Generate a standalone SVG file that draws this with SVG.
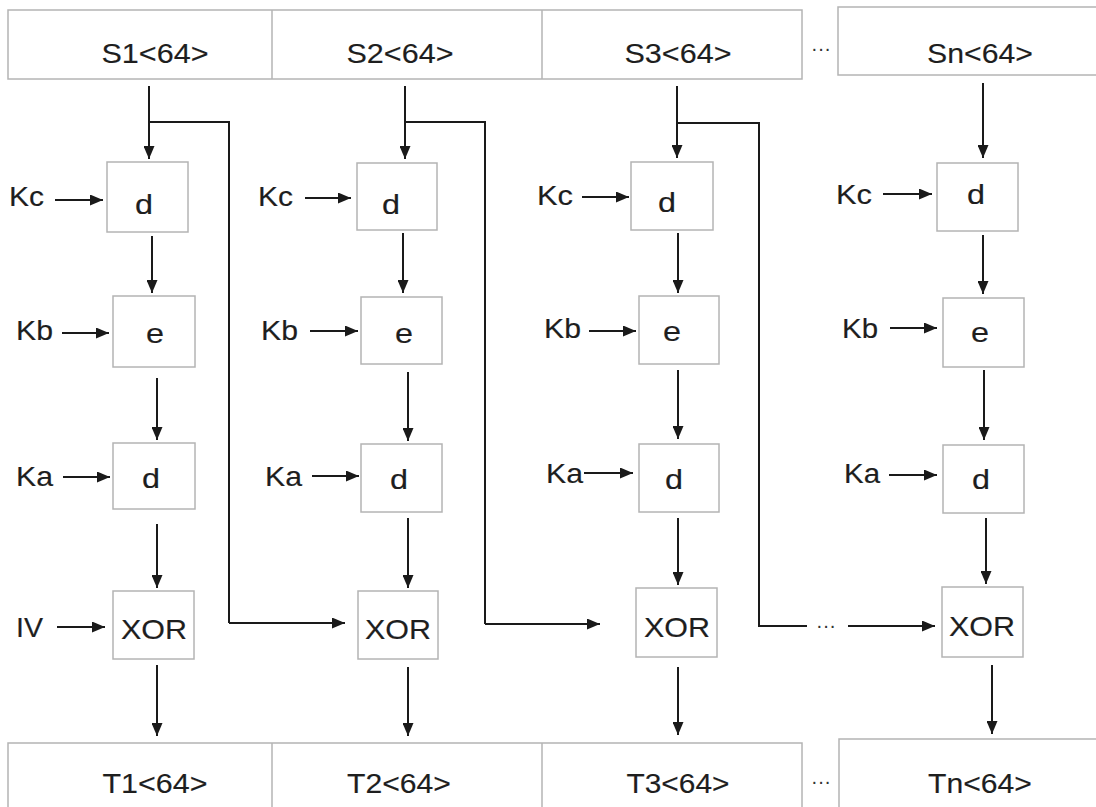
<svg xmlns="http://www.w3.org/2000/svg" width="1096" height="807" viewBox="0 0 1096 807">
<defs>
<marker id="ah" markerUnits="userSpaceOnUse" markerWidth="13" markerHeight="11" refX="13" refY="5.5" orient="auto">
<path d="M0,0 L13,5.5 L0,11 z" fill="#1a1a1a"/>
</marker>
</defs>
<style>
.box{fill:#fff;stroke:#b4b4b4;stroke-width:1.5}
.lbl{font-family:"Liberation Sans",Arial,sans-serif;font-size:28px;fill:#1e1e1e;stroke:#1e1e1e;stroke-width:0.15}
.mid{text-anchor:middle}
.ln{fill:none;stroke:#1a1a1a;stroke-width:2}
.ar{fill:none;stroke:#1a1a1a;stroke-width:2;marker-end:url(#ah)}
.dots{font-family:"Liberation Sans",Arial,sans-serif;font-size:20px;fill:#333;text-anchor:middle}
</style>
<rect width="1096" height="807" fill="#fff"/>

<g id="top-row">
<rect class="box" x="8" y="10" width="794" height="69"/>
<line class="box" x1="272" y1="10" x2="272" y2="79"/>
<line class="box" x1="542" y1="10" x2="542" y2="79"/>
<text class="lbl mid" x="155" y="63" textLength="107" lengthAdjust="spacingAndGlyphs">S1&lt;64&gt;</text>
<text class="lbl mid" x="400" y="63" textLength="107" lengthAdjust="spacingAndGlyphs">S2&lt;64&gt;</text>
<text class="lbl mid" x="678" y="63" textLength="107" lengthAdjust="spacingAndGlyphs">S3&lt;64&gt;</text>
<text class="dots" x="821" y="55">···</text>
</g>
<g id="Sn">
<rect class="box" x="838" y="7" width="270" height="68"/>
<text class="lbl mid" x="980" y="63" textLength="106" lengthAdjust="spacingAndGlyphs">Sn&lt;64&gt;</text>
</g>

<g id="bottom-row">
<rect class="box" x="8" y="743" width="794" height="80"/>
<line class="box" x1="272" y1="743" x2="272" y2="807"/>
<line class="box" x1="542" y1="743" x2="542" y2="807"/>
<text class="lbl mid" x="155" y="793" textLength="105" lengthAdjust="spacingAndGlyphs">T1&lt;64&gt;</text>
<text class="lbl mid" x="399" y="793" textLength="104" lengthAdjust="spacingAndGlyphs">T2&lt;64&gt;</text>
<text class="lbl mid" x="678" y="793" textLength="103" lengthAdjust="spacingAndGlyphs">T3&lt;64&gt;</text>
<text class="dots" x="821" y="788">···</text>
</g>
<g id="Tn">
<rect class="box" x="839" y="739" width="270" height="80"/>
<text class="lbl mid" x="980" y="793" textLength="104" lengthAdjust="spacingAndGlyphs">Tn&lt;64&gt;</text>
</g>

<!-- Column 1 -->
<g id="c1-d1"><rect class="box" x="107" y="162" width="81" height="70"/><text class="lbl mid" x="144" y="214" textLength="18" lengthAdjust="spacingAndGlyphs">d</text></g>
<g id="c1-e"><rect class="box" x="113" y="296" width="82" height="71"/><text class="lbl mid" x="155" y="343" textLength="18" lengthAdjust="spacingAndGlyphs">e</text></g>
<g id="c1-d2"><rect class="box" x="113" y="443" width="82" height="66"/><text class="lbl mid" x="151" y="488" textLength="18" lengthAdjust="spacingAndGlyphs">d</text></g>
<g id="c1-xor"><rect class="box" x="113" y="591" width="81" height="68"/><text class="lbl mid" x="154" y="639" textLength="66" lengthAdjust="spacingAndGlyphs">XOR</text></g>
<g id="c1-keys">
<text class="lbl" x="9" y="206" textLength="35" lengthAdjust="spacingAndGlyphs">Kc</text>
<text class="lbl" x="16" y="340" textLength="37" lengthAdjust="spacingAndGlyphs">Kb</text>
<text class="lbl" x="16" y="486" textLength="37" lengthAdjust="spacingAndGlyphs">Ka</text>
<text class="lbl" x="16" y="637" textLength="27" lengthAdjust="spacingAndGlyphs">IV</text>
</g>

<!-- Column 2 -->
<g id="c2-d1"><rect class="box" x="357" y="163" width="80" height="67"/><text class="lbl mid" x="391" y="214" textLength="18" lengthAdjust="spacingAndGlyphs">d</text></g>
<g id="c2-e"><rect class="box" x="361" y="297" width="81" height="67"/><text class="lbl mid" x="404" y="343" textLength="18" lengthAdjust="spacingAndGlyphs">e</text></g>
<g id="c2-d2"><rect class="box" x="361" y="444" width="81" height="68"/><text class="lbl mid" x="399" y="489" textLength="18" lengthAdjust="spacingAndGlyphs">d</text></g>
<g id="c2-xor"><rect class="box" x="358" y="591" width="80" height="68"/><text class="lbl mid" x="398" y="639" textLength="66" lengthAdjust="spacingAndGlyphs">XOR</text></g>
<g id="c2-keys">
<text class="lbl" x="258" y="206" textLength="35" lengthAdjust="spacingAndGlyphs">Kc</text>
<text class="lbl" x="261" y="340" textLength="37" lengthAdjust="spacingAndGlyphs">Kb</text>
<text class="lbl" x="265" y="486" textLength="37" lengthAdjust="spacingAndGlyphs">Ka</text>
</g>

<!-- Column 3 -->
<g id="c3-d1"><rect class="box" x="631" y="162" width="82" height="68"/><text class="lbl mid" x="667" y="212" textLength="18" lengthAdjust="spacingAndGlyphs">d</text></g>
<g id="c3-e"><rect class="box" x="639" y="296" width="80" height="68"/><text class="lbl mid" x="672" y="341" textLength="18" lengthAdjust="spacingAndGlyphs">e</text></g>
<g id="c3-d2"><rect class="box" x="639" y="444" width="80" height="68"/><text class="lbl mid" x="674" y="489" textLength="18" lengthAdjust="spacingAndGlyphs">d</text></g>
<g id="c3-xor"><rect class="box" x="636" y="588" width="81" height="69"/><text class="lbl mid" x="677" y="637" textLength="66" lengthAdjust="spacingAndGlyphs">XOR</text></g>
<g id="c3-keys">
<text class="lbl" x="537" y="205" textLength="36" lengthAdjust="spacingAndGlyphs">Kc</text>
<text class="lbl" x="544" y="338" textLength="37" lengthAdjust="spacingAndGlyphs">Kb</text>
<text class="lbl" x="546" y="483" textLength="37" lengthAdjust="spacingAndGlyphs">Ka</text>
</g>

<!-- Column n -->
<g id="cn-d1"><rect class="box" x="937" y="163" width="81" height="68"/><text class="lbl mid" x="976" y="204" textLength="18" lengthAdjust="spacingAndGlyphs">d</text></g>
<g id="cn-e"><rect class="box" x="943" y="298" width="81" height="69"/><text class="lbl mid" x="980" y="342" textLength="18" lengthAdjust="spacingAndGlyphs">e</text></g>
<g id="cn-d2"><rect class="box" x="943" y="445" width="81" height="68"/><text class="lbl mid" x="981" y="489" textLength="18" lengthAdjust="spacingAndGlyphs">d</text></g>
<g id="cn-xor"><rect class="box" x="942" y="587" width="81" height="70"/><text class="lbl mid" x="982" y="636" textLength="66" lengthAdjust="spacingAndGlyphs">XOR</text></g>
<g id="cn-keys">
<text class="lbl" x="836" y="204" textLength="36" lengthAdjust="spacingAndGlyphs">Kc</text>
<text class="lbl" x="842" y="338" textLength="36" lengthAdjust="spacingAndGlyphs">Kb</text>
<text class="lbl" x="844" y="483" textLength="36" lengthAdjust="spacingAndGlyphs">Ka</text>
</g>

<g id="connectors">
<!-- column 1 -->
<line class="ar" x1="149" y1="86" x2="149" y2="159"/>
<polyline class="ln" points="149,122 229,122 229,623"/>
<line class="ar" x1="229" y1="623" x2="345" y2="623"/>
<line class="ar" x1="152" y1="236" x2="152" y2="293"/>
<line class="ar" x1="157" y1="378" x2="157" y2="440"/>
<line class="ar" x1="157" y1="524" x2="157" y2="588"/>
<line class="ar" x1="157" y1="665" x2="157" y2="736"/>
<line class="ar" x1="55" y1="200" x2="103" y2="200"/>
<line class="ar" x1="62" y1="333" x2="109" y2="333"/>
<line class="ar" x1="63" y1="477" x2="110" y2="477"/>
<line class="ar" x1="57" y1="627" x2="105" y2="627"/>
<!-- column 2 -->
<line class="ar" x1="405" y1="86" x2="405" y2="159"/>
<polyline class="ln" points="405,122 485,122 485,624"/>
<line class="ar" x1="485" y1="624" x2="600" y2="624"/>
<line class="ar" x1="403" y1="233" x2="403" y2="293"/>
<line class="ar" x1="408" y1="372" x2="408" y2="441"/>
<line class="ar" x1="408" y1="518" x2="408" y2="588"/>
<line class="ar" x1="408" y1="667" x2="408" y2="736"/>
<line class="ar" x1="305" y1="198" x2="351" y2="198"/>
<line class="ar" x1="310" y1="331" x2="358" y2="331"/>
<line class="ar" x1="312" y1="476" x2="359" y2="476"/>
<!-- column 3 -->
<line class="ar" x1="677" y1="86" x2="677" y2="158"/>
<polyline class="ln" points="677,123 759,123 759,626 807,626"/>
<text class="dots" x="826" y="632">···</text>
<line class="ar" x1="848" y1="626" x2="935" y2="626"/>
<line class="ar" x1="678" y1="233" x2="678" y2="293"/>
<line class="ar" x1="678" y1="370" x2="678" y2="439"/>
<line class="ar" x1="678" y1="518" x2="678" y2="585"/>
<line class="ar" x1="678" y1="667" x2="678" y2="735"/>
<line class="ar" x1="582" y1="197" x2="629" y2="197"/>
<line class="ar" x1="589" y1="331" x2="636" y2="331"/>
<line class="ar" x1="584" y1="473" x2="633" y2="473"/>
<!-- column n -->
<line class="ar" x1="983" y1="83" x2="983" y2="158"/>
<line class="ar" x1="983" y1="235" x2="983" y2="294"/>
<line class="ar" x1="984" y1="370" x2="984" y2="440"/>
<line class="ar" x1="986" y1="518" x2="986" y2="584"/>
<line class="ar" x1="992" y1="665" x2="992" y2="734"/>
<line class="ar" x1="883" y1="194" x2="932" y2="194"/>
<line class="ar" x1="890" y1="328" x2="937" y2="328"/>
<line class="ar" x1="889" y1="475" x2="937" y2="475"/>
</g>
</svg>
